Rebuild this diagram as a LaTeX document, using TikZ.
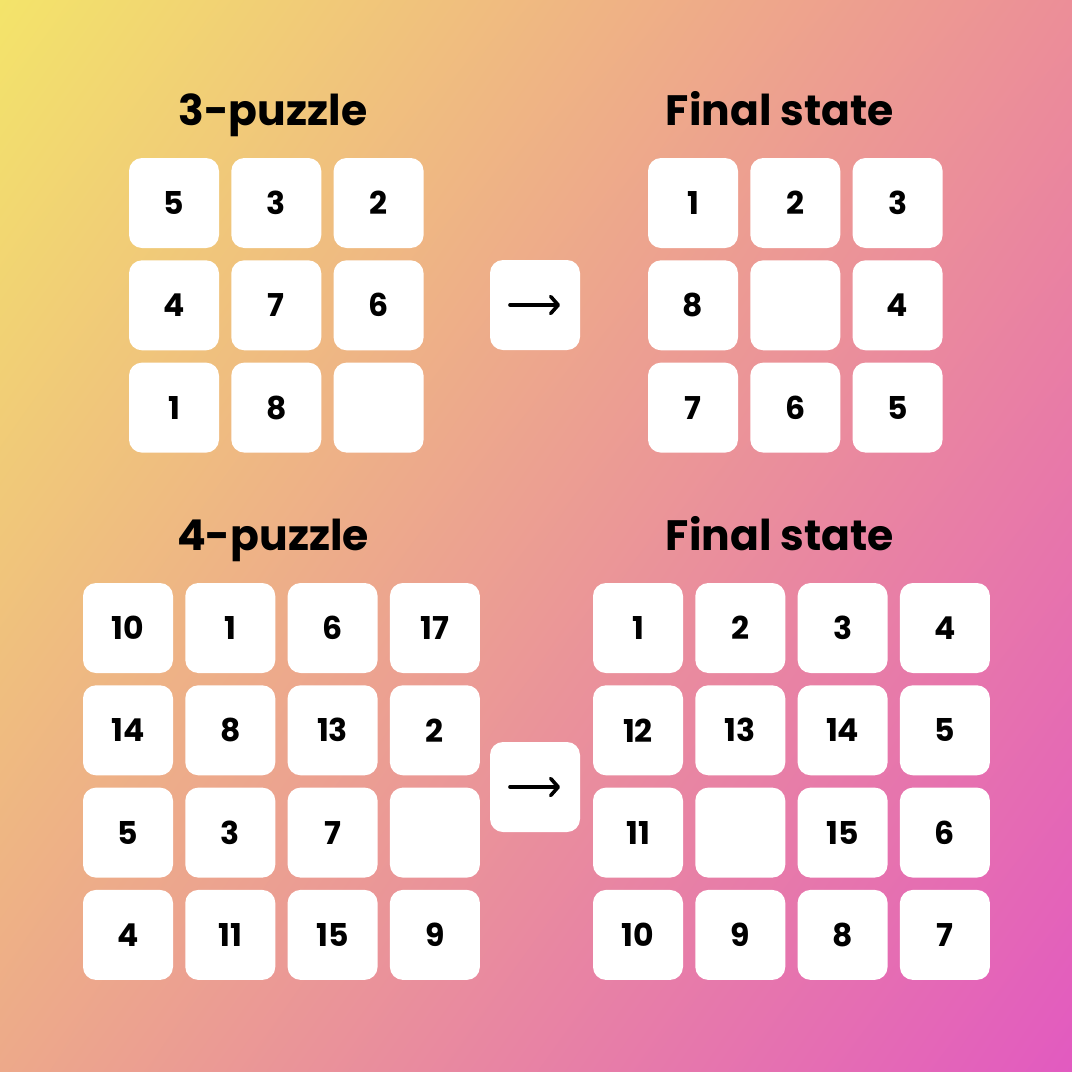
\documentclass[tikz,border=0pt]{standalone}
\usepackage{fontspec}
\setmainfont{Poppins}
\usetikzlibrary{positioning,arrows.meta,shadings}
\definecolor{bgtl}{HTML}{F3E46A}
\definecolor{bgtr}{HTML}{EC8E98}
\definecolor{bgbl}{HTML}{EDA98A}
\definecolor{bgbr}{HTML}{E25AC0}
\definecolor{ink}{HTML}{000000}

\begin{document}
\begin{tikzpicture}[x=1pt,y=-1pt,node distance=102.3pt,on grid,
  tile/.style={fill=white,text=ink,rounded corners=13pt,minimum size=90pt,inner sep=0pt,
    font=\fontsize{31.5}{31.5}\selectfont\bfseries},
  title/.style={anchor=base,text=ink,font=\fontsize{42.5}{42.5}\selectfont\bfseries},
  pointer/.style={ink,line width=3.6pt,line cap=round,-{Straight Barb[length=7.5pt,width=17pt,round]}}]
\shade[upper left=bgtl,upper right=bgtr,lower left=bgbl,lower right=bgbr] (0,0) rectangle (1072,1072);
\useasboundingbox (0,0) rectangle (1072,1072);

% 3-puzzle
\node[title] (l_0) at (273,125) {3-puzzle};
\node[tile] (p_1) at (174,203) {5};
\node[tile] (p_2) [right=of p_1] {3};
\node[tile] (p_3) [right=of p_2] {2};
\node[tile] (p_4) [below=of p_1] {4};
\node[tile] (p_5) [right=of p_4] {7};
\node[tile] (p_6) [right=of p_5] {6};
\node[tile] (p_7) [below=of p_4] {1};
\node[tile] (p_8) [right=of p_7] {8};
\node[tile] (p_9) [right=of p_8] {};

\node[tile] (a_0) at (535,305) {};
\draw[pointer] ([xshift=-25pt]a_0.center) -- ([xshift=25pt]a_0.center);

% final state 3
\node[title] (l_1) at (780,125) {Final state};
\node[tile] (f_1) at (693,203) {1};
\node[tile] (f_2) [right=of f_1] {2};
\node[tile] (f_3) [right=of f_2] {3};
\node[tile] (f_4) [below=of f_1] {8};
\node[tile] (f_5) [right=of f_4] {};
\node[tile] (f_6) [right=of f_5] {4};
\node[tile] (f_7) [below=of f_4] {7};
\node[tile] (f_8) [right=of f_7] {6};
\node[tile] (f_9) [right=of f_8] {5};

% 4-puzzle
\node[title] (l_2) at (273,550) {4-puzzle};
\node[tile] (q_1) at (128,628) {10};
\node[tile] (q_2) [right=of q_1] {1};
\node[tile] (q_3) [right=of q_2] {6};
\node[tile] (q_4) [right=of q_3] {17};
\node[tile] (q_5) [below=of q_1] {14};
\node[tile] (q_6) [right=of q_5] {8};
\node[tile] (q_7) [right=of q_6] {13};
\node[tile] (q_8) [right=of q_7] {2};
\node[tile] (q_9) [below=of q_5] {5};
\node[tile] (q_10) [right=of q_9] {3};
\node[tile] (q_11) [right=of q_10] {7};
\node[tile] (q_12) [right=of q_11] {};
\node[tile] (q_13) [below=of q_9] {4};
\node[tile] (q_14) [right=of q_13] {11};
\node[tile] (q_15) [right=of q_14] {15};
\node[tile] (q_16) [right=of q_15] {9};

\node[tile] (a_1) at (535,787) {};
\draw[pointer] ([xshift=-25pt]a_1.center) -- ([xshift=25pt]a_1.center);

% final state 4
\node[title] (l_3) at (780,550) {Final state};
\node[tile] (g_1) at (638,628) {1};
\node[tile] (g_2) [right=of g_1] {2};
\node[tile] (g_3) [right=of g_2] {3};
\node[tile] (g_4) [right=of g_3] {4};
\node[tile] (g_5) [below=of g_1] {12};
\node[tile] (g_6) [right=of g_5] {13};
\node[tile] (g_7) [right=of g_6] {14};
\node[tile] (g_8) [right=of g_7] {5};
\node[tile] (g_9) [below=of g_5] {11};
\node[tile] (g_10) [right=of g_9] {};
\node[tile] (g_11) [right=of g_10] {15};
\node[tile] (g_12) [right=of g_11] {6};
\node[tile] (g_13) [below=of g_9] {10};
\node[tile] (g_14) [right=of g_13] {9};
\node[tile] (g_15) [right=of g_14] {8};
\node[tile] (g_16) [right=of g_15] {7};
\end{tikzpicture}
\end{document}
